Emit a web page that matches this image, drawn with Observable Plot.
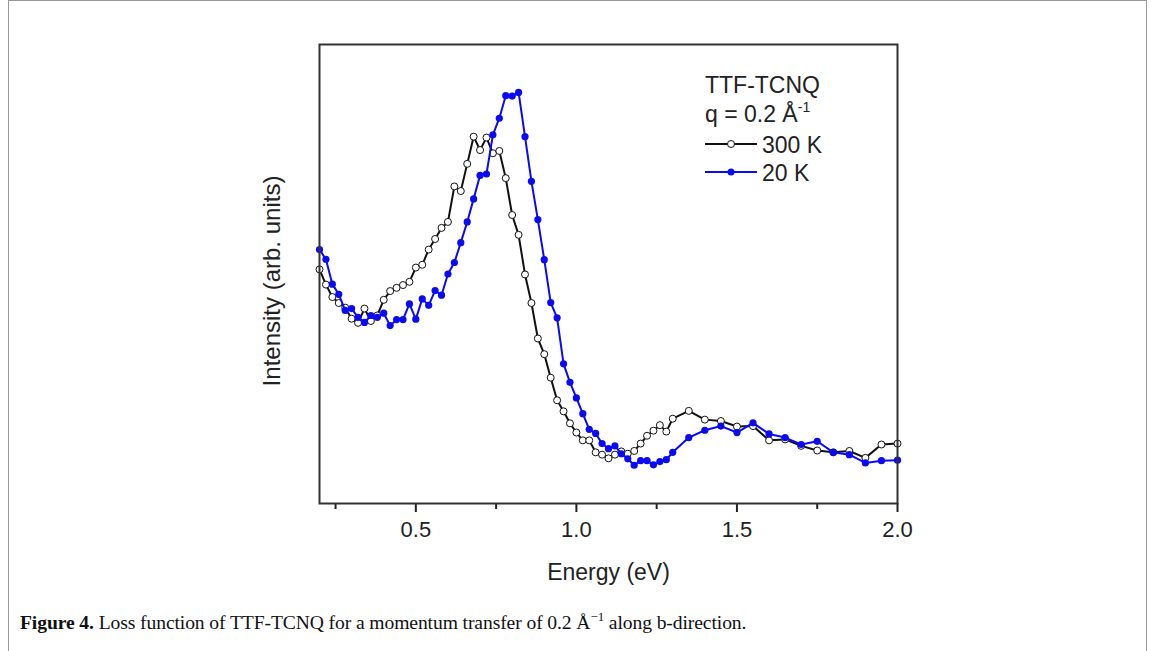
<!DOCTYPE html>
<html><head><meta charset="utf-8">
<script src="https://cdn.jsdelivr.net/npm/d3@7"></script>
<script src="https://cdn.jsdelivr.net/npm/@observablehq/plot@0.6"></script>
<style>
body{margin:0;background:#fff;}
#wrap{position:relative;width:1155px;height:651px;overflow:hidden;font-family:"Liberation Sans",Arial,sans-serif;}
#border{position:absolute;left:8px;top:0;width:1139px;height:720px;border:1px solid #9a9a9a;box-sizing:border-box;}
#chart{position:absolute;left:0;top:0;}
#overlay{position:absolute;left:0;top:0;pointer-events:none;}
#caption{position:absolute;left:20px;top:609px;font-family:"Liberation Serif","Times New Roman",serif;font-size:19.6px;color:#111;white-space:nowrap;letter-spacing:-0.1px;}
#caption sup{font-size:13px;}
</style>
</head><body>
<div id="wrap"><div id="border"></div><div id="chart"></div><svg id="overlay" width="1155" height="600"></svg>
<div id="caption"><b>Figure 4.</b> Loss function of TTF-TCNQ for a momentum transfer of 0.2 Å<sup>−1</sup> along b-direction.</div>
</div>
<script>
// Energy grid (eV)
const energy = [0.20,0.22,0.24,0.26,0.28,0.30,0.32,0.34,0.36,0.38,0.40,0.42,0.44,0.46,0.48,0.50,0.52,0.54,0.56,0.58,0.60,0.62,0.64,0.66,0.68,0.70,0.72,0.74,0.76,0.78,0.80,0.82,0.84,0.86,0.88,0.90,0.92,0.94,0.96,0.98,1.00,1.02,1.04,1.06,1.08,1.10,1.12,1.14,1.16,1.18,1.20,1.22,1.24,1.26,1.28,1.30,1.35,1.40,1.45,1.50,1.55,1.60,1.65,1.70,1.75,1.80,1.85,1.90,1.95,2.00];
// Intensity at 300 K (arb. units)
const intensity300 = [51.0,47.7,45.0,43.7,42.7,40.3,39.4,42.5,39.8,41.0,44.4,46.3,47.0,47.6,48.3,51.4,52.0,55.3,57.6,60.0,61.3,69.0,68.0,73.9,79.8,76.9,79.6,76.2,76.7,70.8,62.8,58.5,49.9,43.7,36.0,32.6,27.5,22.6,20.2,17.6,15.6,13.9,13.9,11.3,10.8,10.0,10.8,11.5,11.0,11.6,13.2,14.9,16.0,17.2,15.8,18.6,20.3,18.4,18.1,16.9,17.0,13.9,14.1,12.7,11.7,11.3,11.6,10.1,13.0,13.2];
// Intensity at 20 K (arb. units)
const intensity20 = [55.3,53.2,47.8,45.6,42.1,42.5,40.6,39.5,41.0,40.6,41.5,38.8,40.1,40.1,43.5,40.2,44.6,43.2,46.4,45.4,50.0,52.5,56.8,61.3,66.3,71.4,71.7,80.2,83.8,88.7,88.6,89.4,79.8,70.1,61.8,53.1,43.8,40.5,30.5,26.5,23.1,19.7,16.3,15.4,13.2,12.1,12.7,11.0,9.9,8.5,9.5,9.5,8.6,9.3,9.7,11.3,14.5,16.1,17.0,15.6,17.7,15.3,14.5,13.0,13.7,11.3,10.8,9.0,9.5,9.6];
const majorTicks = [0.5,1.0,1.5,2.0];
const minorTicks = [0.25,0.75,1.25,1.75];
const seriesNames = ["300 K","20 K"];
const seriesColors = ["#111111","#0a0af5"];
const legendTitle = "TTF-TCNQ";
const legendQ = "q = 0.2 Å";
const xLabel = "Energy (eV)";
const yLabel = "Intensity (arb. units)";

const d300 = energy.map((e,i)=>({e, v:intensity300[i]}));
const d20 = energy.map((e,i)=>({e, v:intensity20[i]}));

const chart = Plot.plot({
  width:1155, height:600,
  marginLeft:319, marginRight:258, marginTop:44, marginBottom:97,
  x:{domain:[0.2,2.0]},
  y:{domain:[0.2,99.8], axis:null},
  style:{fontFamily:"'Liberation Sans', Arial, sans-serif", color:"#222", background:"transparent", overflow:"visible"},
  marks:[
    Plot.axisX({ticks:majorTicks, tickSize:9, tickPadding:9, tickFormat:d3.format(".1f"), fontSize:22, strokeWidth:2, label:xLabel, labelAnchor:"center", labelOffset:76, labelArrow:"none"}),
    Plot.axisX({ticks:minorTicks, tickSize:6, strokeWidth:2, tickFormat:()=>"", label:null}),
    Plot.text([yLabel], {text:d=>d, frameAnchor:"left", rotate:-90, dx:-47, dy:7, fontSize:24, textAnchor:"middle", lineAnchor:"middle", fill:"#222"}),
    Plot.line(d300, {x:"e", y:"v", stroke:seriesColors[0], strokeWidth:2}),
    Plot.dot(d300, {x:"e", y:"v", r:3.5, fill:"white", stroke:seriesColors[0], strokeWidth:1}),
    Plot.line(d20, {x:"e", y:"v", stroke:seriesColors[1], strokeWidth:2}),
    Plot.dot(d20, {x:"e", y:"v", r:3.6, fill:seriesColors[1], stroke:"none"}),
    Plot.frame({stroke:"#333", strokeWidth:2})
  ]
});
document.getElementById("chart").appendChild(chart);
// make the x-axis label a bit larger to match the reference
d3.select(chart).selectAll("text").filter(function(){return this.textContent===xLabel;}).attr("font-size",23);

// Legend
const ov = d3.select("#overlay").style("font-family","'Liberation Sans', Arial, sans-serif").style("font-size","23px").attr("fill","#222");
ov.append("text").attr("x",705).attr("y",93).text(legendTitle);
const q = ov.append("text").attr("x",705).attr("y",122).text(legendQ);
q.append("tspan").attr("dy",-10).attr("font-size",14).text("-1");
[[144,153],[172,181]].forEach(([ly,ty],i)=>{
  ov.append("line").attr("x1",705).attr("x2",757).attr("y1",ly).attr("y2",ly).attr("stroke",seriesColors[i]).attr("stroke-width",2);
  ov.append("circle").attr("cx",731).attr("cy",ly).attr("r",3.5)
    .attr("fill", i===0?"white":seriesColors[i]).attr("stroke", i===0?seriesColors[0]:"none");
  ov.append("text").attr("x",762).attr("y",ty).text(seriesNames[i]);
});
</script>
</body></html>
